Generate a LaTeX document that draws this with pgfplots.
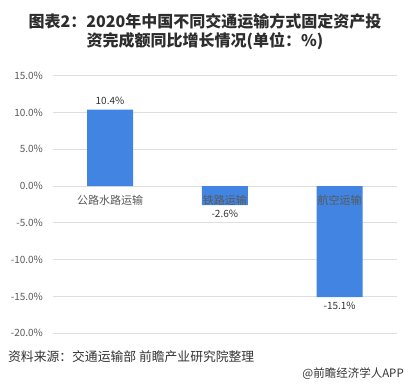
\documentclass[border=0pt]{standalone}
\usepackage{fontspec}
\setmainfont{Noto Sans CJK SC}
\usepackage{pgfplots}
\pgfplotsset{compat=1.18}
\definecolor{barblue}{RGB}{65,132,226}
\definecolor{tickgray}{RGB}{89,89,89}
\definecolor{gridgray}{RGB}{222,222,222}
\definecolor{txtdark}{RGB}{51,51,51}
\definecolor{titlec}{RGB}{45,45,45}
\begin{document}
\begin{tikzpicture}[x=1pt,y=1pt]
\path[use as bounding box] (0,0) rectangle (410,390);
\node[font=\bfseries\fontsize{16}{18.5}\selectfont, text=titlec, align=center, inner sep=0pt] at (205,358.5)
  {图表2：2020年中国不同交通运输方式固定资产投\\资完成额同比增长情况(单位：\%)};
\begin{axis}[
  at={(52.6pt,56.7pt)}, anchor=south west,
  scale only axis, width=344.4pt, height=257.6pt,
  xmin=-0.5, xmax=2.5, ymin=-20, ymax=15,
  ytick={-20,-15,-10,-5,0,5,10,15},
  xtick=\empty,
  axis line style={draw=none},
  major tick length=0pt,
  ymajorgrids, grid style={gridgray, line width=0.8pt},
  /pgf/number format/assume math mode=true,
  yticklabel={\pgfmathprintnumber[fixed,fixed zerofill,precision=1]{\tick}\%},
  yticklabel style={font=\fontsize{10}{11}\selectfont, text=tickgray, inner sep=0pt, xshift=-9.5pt},
  ybar, bar width=46pt,
  nodes near coords={\pgfmathprintnumber[fixed,fixed zerofill,precision=1]{\pgfplotspointmeta}\%},
  nodes near coords style={font=\fontsize{10}{11}\selectfont, text=txtdark, inner sep=4.5pt},
  clip=false,
]
\addplot[fill=barblue, draw=none] coordinates {(0,10.4) (1,-2.6) (2,-15.1)};
\node[font=\fontsize{11}{13}\selectfont, text=tickgray, inner sep=0pt] at (axis cs:0,-1.9) {公路水路运输};
\node[font=\fontsize{11}{13}\selectfont, text=tickgray, inner sep=0pt] at (axis cs:1,-1.9) {铁路运输};
\node[font=\fontsize{11}{13}\selectfont, text=tickgray, inner sep=0pt] at (axis cs:2,-1.9) {航空运输};
\end{axis}
\node[font=\fontsize{12.8}{14}\selectfont, text=txtdark, anchor=west, inner sep=0pt] at (8,33) {资料来源：交通运输部 前瞻产业研究院整理};
\node[font=\fontsize{11.5}{13}\selectfont, text=txtdark, anchor=east, inner sep=0pt] at (404,16) {@前瞻经济学人APP};
\end{tikzpicture}
\end{document}
